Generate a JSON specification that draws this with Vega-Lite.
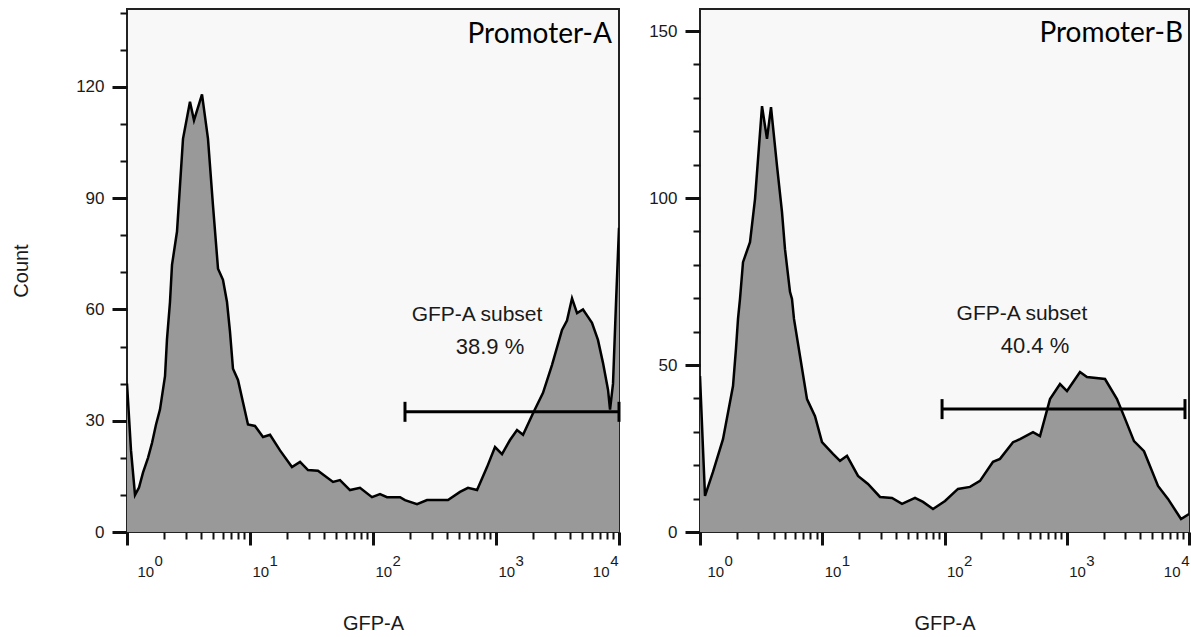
{
  "$schema": "https://vega.github.io/schema/vega-lite/v6.json",
  "padding": {"left": 10, "top": 8, "right": 0, "bottom": 0},
  "background": "white",
  "config": {
    "view": {"stroke": "#222222", "strokeWidth": 2, "fill": "#f8f8f8"},
    "font": "Liberation Sans",
    "axis": {
      "domain": false, "grid": false,
      "labelFont": "Liberation Sans", "labelFontSize": 17, "labelColor": "#1a1a1a",
      "tickColor": "#111111",
      "titleFont": "Liberation Sans", "titleFontSize": 20, "titleFontWeight": "normal", "titleColor": "#1a1a1a",
      "labelOverlap": false, "labelFlush": false, "labelBound": false
    }
  },
  "datasets": {
    "histA": [
      {"gfp": 1, "count": 40}, {"gfp": 1.078, "count": 22}, {"gfp": 1.162, "count": 10}, {"gfp": 1.252, "count": 12},
      {"gfp": 1.349, "count": 16}, {"gfp": 1.482, "count": 20}, {"gfp": 1.597, "count": 24}, {"gfp": 1.722, "count": 29},
      {"gfp": 1.854, "count": 33}, {"gfp": 2.037, "count": 42}, {"gfp": 2.114, "count": 52}, {"gfp": 2.236, "count": 62},
      {"gfp": 2.322, "count": 72}, {"gfp": 2.55, "count": 81}, {"gfp": 2.853, "count": 106}, {"gfp": 3.251, "count": 116},
      {"gfp": 3.505, "count": 111}, {"gfp": 4.072, "count": 118}, {"gfp": 4.556, "count": 106}, {"gfp": 5.002, "count": 88},
      {"gfp": 5.495, "count": 71}, {"gfp": 6.03, "count": 68}, {"gfp": 6.502, "count": 62}, {"gfp": 6.875, "count": 54},
      {"gfp": 7.273, "count": 44}, {"gfp": 7.987, "count": 41}, {"gfp": 8.77, "count": 35}, {"gfp": 9.63, "count": 29},
      {"gfp": 10.98, "count": 28.6}, {"gfp": 12.76, "count": 25.6}, {"gfp": 14.55, "count": 26.2}, {"gfp": 17.54, "count": 22},
      {"gfp": 21.94, "count": 17.5}, {"gfp": 25.52, "count": 18.9}, {"gfp": 29.62, "count": 16.7}, {"gfp": 35.7, "count": 16.5},
      {"gfp": 47.3, "count": 13.5}, {"gfp": 53.9, "count": 14}, {"gfp": 65, "count": 11.3}, {"gfp": 78.4, "count": 11.9},
      {"gfp": 98.1, "count": 9.4}, {"gfp": 114, "count": 10.2}, {"gfp": 130, "count": 9.4}, {"gfp": 165.9, "count": 9.4},
      {"gfp": 182, "count": 8.6}, {"gfp": 228, "count": 7.5}, {"gfp": 274.8, "count": 8.6}, {"gfp": 407.1, "count": 8.6},
      {"gfp": 509.7, "count": 10.8}, {"gfp": 591.8, "count": 11.9}, {"gfp": 701.4, "count": 11.3}, {"gfp": 845.3, "count": 17.5},
      {"gfp": 981.8, "count": 22.9}, {"gfp": 1119, "count": 21}, {"gfp": 1300, "count": 24.8}, {"gfp": 1482, "count": 27.5},
      {"gfp": 1659, "count": 26.2}, {"gfp": 2000, "count": 32}, {"gfp": 2411, "count": 37.5}, {"gfp": 2851, "count": 45},
      {"gfp": 3441, "count": 54.5}, {"gfp": 3777, "count": 57}, {"gfp": 4150, "count": 63}, {"gfp": 4560, "count": 59},
      {"gfp": 5097, "count": 60}, {"gfp": 5598, "count": 58}, {"gfp": 6030, "count": 56.4}, {"gfp": 6745, "count": 51.8},
      {"gfp": 7410, "count": 45.6}, {"gfp": 8147, "count": 38.3}, {"gfp": 8453, "count": 33}, {"gfp": 8940, "count": 40},
      {"gfp": 9460, "count": 62}, {"gfp": 10000, "count": 82}
    ],
    "histB": [
      {"gfp": 1, "count": 46.7}, {"gfp": 1.058, "count": 25}, {"gfp": 1.099, "count": 10.8}, {"gfp": 1.277, "count": 18},
      {"gfp": 1.542, "count": 27.8}, {"gfp": 1.862, "count": 43.7}, {"gfp": 1.97, "count": 55}, {"gfp": 2.046, "count": 63.8},
      {"gfp": 2.124, "count": 69.8}, {"gfp": 2.248, "count": 80.8}, {"gfp": 2.564, "count": 86.8}, {"gfp": 2.818, "count": 99.7},
      {"gfp": 3.216, "count": 127.5}, {"gfp": 3.532, "count": 117.7}, {"gfp": 3.809, "count": 127.2}, {"gfp": 4.265, "count": 109.6},
      {"gfp": 4.686, "count": 95.8}, {"gfp": 4.958, "count": 84.7}, {"gfp": 5.447, "count": 71.9}, {"gfp": 5.656, "count": 69.8},
      {"gfp": 5.873, "count": 63.8}, {"gfp": 6.577, "count": 52.7}, {"gfp": 7.504, "count": 39.8}, {"gfp": 8.724, "count": 34.7},
      {"gfp": 9.954, "count": 26.9}, {"gfp": 12.24, "count": 23.4}, {"gfp": 13.97, "count": 21.3}, {"gfp": 15.94, "count": 22.8},
      {"gfp": 19.61, "count": 16.8}, {"gfp": 23.67, "count": 14.4}, {"gfp": 29.68, "count": 10.5}, {"gfp": 37.21, "count": 10.2},
      {"gfp": 44.92, "count": 8.4}, {"gfp": 57.38, "count": 10.2}, {"gfp": 66.71, "count": 9}, {"gfp": 80.54, "count": 6.9},
      {"gfp": 101, "count": 9.3}, {"gfp": 128.9, "count": 12.9}, {"gfp": 161.7, "count": 13.5}, {"gfp": 195.2, "count": 15.3},
      {"gfp": 249.3, "count": 21}, {"gfp": 284.4, "count": 21.9}, {"gfp": 363.3, "count": 26.9}, {"gfp": 414.6, "count": 27.8},
      {"gfp": 529.6, "count": 29.9}, {"gfp": 604.2, "count": 28.7}, {"gfp": 729.5, "count": 39.8}, {"gfp": 880.8, "count": 44.3},
      {"gfp": 1005, "count": 42.2}, {"gfp": 1283, "count": 47.9}, {"gfp": 1464, "count": 46.4}, {"gfp": 2056, "count": 45.8},
      {"gfp": 2576, "count": 39.8}, {"gfp": 2939, "count": 34.7}, {"gfp": 3549, "count": 27.2}, {"gfp": 4285, "count": 24.2},
      {"gfp": 5578, "count": 13.8}, {"gfp": 6733, "count": 9.9}, {"gfp": 8603, "count": 3.9}, {"gfp": 10000, "count": 5.4}
    ],
    "gateA": [{"x1": 182, "x2": 10000, "y": 32.4}],
    "gateB": [{"x1": 95.5, "x2": 9270, "y": 36.8}],
    "notesA": [{"x": 701, "y": 58.5, "label": "GFP-A subset"}, {"x": 894, "y": 49.9, "label": "38.9 %"}],
    "notesB": [{"x": 430, "y": 65.3, "label": "GFP-A subset"}, {"x": 550, "y": 55.7, "label": "40.4 %"}],
    "nameA": [{"x": 8770, "y": 134, "label": "Promoter-A"}],
    "nameB": [{"x": 8930, "y": 149, "label": "Promoter-B"}]
  },
  "bounds": "flush",
  "spacing": 81,
  "hconcat": [
    {
      "width": 492, "height": 523,
      "resolve": {"scale": {"x": "shared", "y": "shared"}, "axis": {"x": "independent", "y": "independent"}},
      "layer": [
        {
          "data": {"name": "histA"},
          "mark": {"type": "area", "color": "#999999", "opacity": 1, "clip": true, "line": {"color": "#000000", "strokeWidth": 2.5}},
          "encoding": {
            "x": {"field": "gfp", "type": "quantitative",
              "scale": {"type": "log", "domain": [1, 10000], "nice": false},
              "axis": {
                "orient": "bottom", "title": "GFP-A", "titlePadding": 34,
                "values": [1,2,3,4,5,6,7,8,9,10,20,30,40,50,60,70,80,90,100,200,300,400,500,600,700,800,900,1000,2000,3000,4000,5000,6000,7000,8000,9000,10000],
                "labelExpr": "indexof([1,10,100,1000,10000], datum.value) >= 0 ? '10' : ''",
                "labelFontSize": 15,
                "labelOverlap": false, "labelFlush": false,
                "labelAlign": {"condition": {"test": "datum.value == 10000", "value": "right"}, "value": "left"},
                "labelOffset": {"condition": [{"test": "datum.value == 1", "value": 10}, {"test": "datum.value == 10000", "value": -10}], "value": 2},
                "labelPadding": 19,
                "tickSize": {"condition": {"test": "indexof([1,10,100,1000,10000], datum.value) >= 0", "value": 13}, "value": 7},
                "tickWidth": {"condition": {"test": "indexof([1,10,100,1000,10000], datum.value) >= 0", "value": 3}, "value": 2}
              }},
            "y": {"field": "count", "type": "quantitative",
              "scale": {"domain": [0, 141], "nice": false},
              "axis": {
                "orient": "left", "title": "Count", "titlePadding": 44,
                "values": [0, 30, 60, 90, 120],
                "labelOverlap": false,
                "labelPadding": 8, "tickSize": 15, "tickWidth": 3
              }}
          }
        },
        {
          "data": {"name": "gateA"},
          "mark": {"type": "rule", "color": "#000000", "strokeWidth": 3},
          "encoding": {
            "x": {"field": "x1", "type": "quantitative",
              "axis": {
                "orient": "bottom", "title": null, "domain": false, "ticks": true, "tickSize": 0,
                "values": [1, 10, 100, 1000, 10000],
                "labelExpr": "round(log(datum.value)/LN10) + ''",
                "labelFontSize": 15, "labelPadding": 21,
                "labelOverlap": false, "labelFlush": false,
                "labelAlign": {"condition": {"test": "datum.value == 10000", "value": "right"}, "value": "left"},
                "labelOffset": {"condition": [{"test": "datum.value == 1", "value": 27}, {"test": "datum.value == 10000", "value": -1}], "value": 19}
              }},
            "x2": {"field": "x2"},
            "y": {"field": "y", "type": "quantitative",
              "axis": {
                "orient": "left", "title": null, "labels": false, "domain": false,
                "values": [10, 20, 40, 50, 70, 80, 100, 110, 130, 140],
                "tickSize": 7, "tickWidth": 2
              }}
          }
        },
        {
          "data": {"name": "gateA"},
          "mark": {"type": "tick", "orient": "vertical", "color": "#000000", "size": 20, "thickness": 3, "opacity": 1},
          "encoding": {"x": {"field": "x1", "type": "quantitative", "axis": null}, "y": {"field": "y", "type": "quantitative", "axis": null}}
        },
        {
          "data": {"name": "gateA"},
          "mark": {"type": "tick", "orient": "vertical", "color": "#000000", "size": 20, "thickness": 3, "opacity": 1},
          "encoding": {"x": {"field": "x2", "type": "quantitative", "axis": null}, "y": {"field": "y", "type": "quantitative", "axis": null}}
        },
        {
          "data": {"name": "notesA"},
          "mark": {"type": "text", "font": "Liberation Sans", "color": "#1a1a1a", "align": "center", "baseline": "middle"},
          "encoding": {
            "x": {"field": "x", "type": "quantitative", "axis": null},
            "y": {"field": "y", "type": "quantitative", "axis": null},
            "text": {"field": "label"},
            "size": {"condition": {"test": "indexof(datum.label, '%') >= 0", "value": 22}, "value": 21}
          }
        },
        {
          "data": {"name": "nameA"},
          "mark": {"type": "text", "font": "Lato", "fontSize": 28, "color": "#000000", "align": "right", "baseline": "middle"},
          "encoding": {"x": {"field": "x", "type": "quantitative", "axis": null}, "y": {"field": "y", "type": "quantitative", "axis": null}, "text": {"field": "label"}}
        }
      ]
    },
    {
      "width": 489, "height": 523,
      "resolve": {"scale": {"x": "shared", "y": "shared"}, "axis": {"x": "independent", "y": "independent"}},
      "layer": [
        {
          "data": {"name": "histB"},
          "mark": {"type": "area", "color": "#999999", "opacity": 1, "clip": true, "line": {"color": "#000000", "strokeWidth": 2.5}},
          "encoding": {
            "x": {"field": "gfp", "type": "quantitative",
              "scale": {"type": "log", "domain": [1, 10000], "nice": false},
              "axis": {
                "orient": "bottom", "title": "GFP-A", "titlePadding": 34,
                "values": [1,2,3,4,5,6,7,8,9,10,20,30,40,50,60,70,80,90,100,200,300,400,500,600,700,800,900,1000,2000,3000,4000,5000,6000,7000,8000,9000,10000],
                "labelExpr": "indexof([1,10,100,1000,10000], datum.value) >= 0 ? '10' : ''",
                "labelFontSize": 15,
                "labelOverlap": false, "labelFlush": false,
                "labelAlign": {"condition": {"test": "datum.value == 10000", "value": "right"}, "value": "left"},
                "labelOffset": {"condition": [{"test": "datum.value == 1", "value": 7}, {"test": "datum.value == 10000", "value": -9}], "value": 2},
                "labelPadding": 19,
                "tickSize": {"condition": {"test": "indexof([1,10,100,1000,10000], datum.value) >= 0", "value": 13}, "value": 7},
                "tickWidth": {"condition": {"test": "indexof([1,10,100,1000,10000], datum.value) >= 0", "value": 3}, "value": 2}
              }},
            "y": {"field": "count", "type": "quantitative",
              "scale": {"domain": [0, 156.6], "nice": false},
              "axis": {
                "orient": "left", "title": null,
                "values": [0, 50, 100, 150],
                "labelOverlap": false,
                "labelPadding": 8, "tickSize": 15, "tickWidth": 3
              }}
          }
        },
        {
          "data": {"name": "gateB"},
          "mark": {"type": "rule", "color": "#000000", "strokeWidth": 3},
          "encoding": {
            "x": {"field": "x1", "type": "quantitative",
              "axis": {
                "orient": "bottom", "title": null, "domain": false, "ticks": true, "tickSize": 0,
                "values": [1, 10, 100, 1000, 10000],
                "labelExpr": "round(log(datum.value)/LN10) + ''",
                "labelFontSize": 15, "labelPadding": 21,
                "labelOverlap": false, "labelFlush": false,
                "labelAlign": {"condition": {"test": "datum.value == 10000", "value": "right"}, "value": "left"},
                "labelOffset": {"condition": [{"test": "datum.value == 1", "value": 24}, {"test": "datum.value == 10000", "value": 0}], "value": 19}
              }},
            "x2": {"field": "x2"},
            "y": {"field": "y", "type": "quantitative",
              "axis": {
                "orient": "left", "title": null, "labels": false, "domain": false,
                "values": [10, 20, 30, 40, 60, 70, 80, 90, 110, 120, 130, 140],
                "tickSize": 7, "tickWidth": 2
              }}
          }
        },
        {
          "data": {"name": "gateB"},
          "mark": {"type": "tick", "orient": "vertical", "color": "#000000", "size": 20, "thickness": 3, "opacity": 1},
          "encoding": {"x": {"field": "x1", "type": "quantitative", "axis": null}, "y": {"field": "y", "type": "quantitative", "axis": null}}
        },
        {
          "data": {"name": "gateB"},
          "mark": {"type": "tick", "orient": "vertical", "color": "#000000", "size": 20, "thickness": 3, "opacity": 1},
          "encoding": {"x": {"field": "x2", "type": "quantitative", "axis": null}, "y": {"field": "y", "type": "quantitative", "axis": null}}
        },
        {
          "data": {"name": "notesB"},
          "mark": {"type": "text", "font": "Liberation Sans", "color": "#1a1a1a", "align": "center", "baseline": "middle"},
          "encoding": {
            "x": {"field": "x", "type": "quantitative", "axis": null},
            "y": {"field": "y", "type": "quantitative", "axis": null},
            "text": {"field": "label"},
            "size": {"condition": {"test": "indexof(datum.label, '%') >= 0", "value": 22}, "value": 21}
          }
        },
        {
          "data": {"name": "nameB"},
          "mark": {"type": "text", "font": "Lato", "fontSize": 28, "color": "#000000", "align": "right", "baseline": "middle"},
          "encoding": {"x": {"field": "x", "type": "quantitative", "axis": null}, "y": {"field": "y", "type": "quantitative", "axis": null}, "text": {"field": "label"}}
        }
      ]
    }
  ]
}
